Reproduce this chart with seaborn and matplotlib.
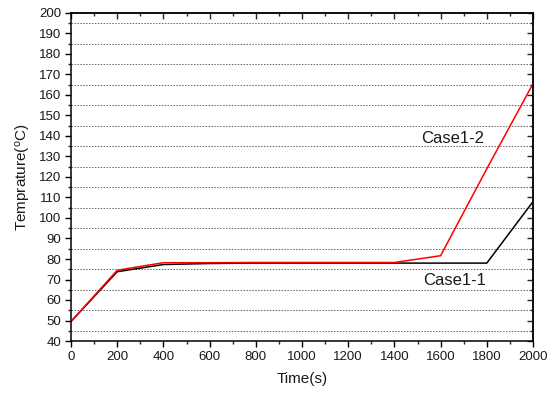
import matplotlib
matplotlib.use("Agg")
import matplotlib.pyplot as plt
import seaborn as sns
import pandas as pd
from matplotlib.ticker import MultipleLocator

time_s = [0, 200, 400, 600, 800, 1000, 1200, 1400, 1600, 1800, 2000]
case1_1 = [49.5, 73.8, 77.3, 77.8, 78.0, 78.0, 78.0, 78.0, 78.0, 78.0, 108.0]
case1_2 = [49.5, 74.5, 78.2, 78.2, 78.3, 78.3, 78.3, 78.3, 81.6, 124.0, 165.5]
case_labels = ["Case1-1", "Case1-2"]

df = pd.concat([
    pd.DataFrame({"Time": time_s, "Temp": case1_1, "Case": case_labels[0]}),
    pd.DataFrame({"Time": time_s, "Temp": case1_2, "Case": case_labels[1]}),
])

sns.set_style("ticks")
plt.rcParams["font.family"] = ["Liberation Sans", "DejaVu Sans"]
plt.rcParams["mathtext.default"] = "regular"

fig = plt.figure(figsize=(5.56, 3.94), dpi=100)
ax = fig.add_axes([71/556, 1-341/394, (533-71)/556, (341-13)/394])

sns.lineplot(data=df, x="Time", y="Temp", hue="Case", hue_order=case_labels,
             palette={"Case1-1": "black", "Case1-2": "red"}, linewidth=1.1,
             legend=False, ax=ax)

ax.set_xlim(0, 2000)
ax.set_ylim(40, 200)
ax.xaxis.set_major_locator(MultipleLocator(200))
ax.xaxis.set_minor_locator(MultipleLocator(100))
ax.yaxis.set_major_locator(MultipleLocator(10))
ax.yaxis.set_minor_locator(MultipleLocator(5))

ax.yaxis.grid(True, which="minor", linestyle=(0, (1.5, 1.5)), color="#666666", linewidth=0.7)
ax.yaxis.grid(False, which="major")

ax.tick_params(which="major", direction="out", length=4, width=1, labelsize=9.5,
               colors="black", labelcolor="#1a1a1a", pad=3)
ax.tick_params(which="minor", direction="out", length=2.5, width=1)

for s in ax.spines.values():
    s.set_visible(True)
    s.set_linewidth(1.1)
    s.set_color("black")

top = ax.secondary_xaxis("top")
top.xaxis.set_major_locator(MultipleLocator(200))
top.xaxis.set_minor_locator(MultipleLocator(100))
top.tick_params(which="major", direction="in", length=4, width=1, labeltop=False)
top.tick_params(which="minor", direction="in", length=2.5, width=1)
top.spines["top"].set_linewidth(1.1)

right = ax.secondary_yaxis("right")
right.yaxis.set_major_locator(MultipleLocator(10))
right.yaxis.set_minor_locator(MultipleLocator(5))
right.tick_params(which="major", direction="in", length=4, width=1, labelright=False)
right.tick_params(which="minor", direction="in", length=2.5, width=1)
right.spines["right"].set_linewidth(1.1)

ax.set_xlabel("Time(s)", fontsize=11, labelpad=7, color="#1a1a1a")
ax.set_ylabel("Temprature($^{o}$C)", fontsize=11, labelpad=4, color="#1a1a1a")

ax.text(1652, 139, "Case1-2", fontsize=12, ha="center", va="center", color="#1a1a1a")
ax.text(1660, 69.5, "Case1-1", fontsize=12, ha="center", va="center", color="#1a1a1a")

fig.savefig("out.png", dpi=100)
